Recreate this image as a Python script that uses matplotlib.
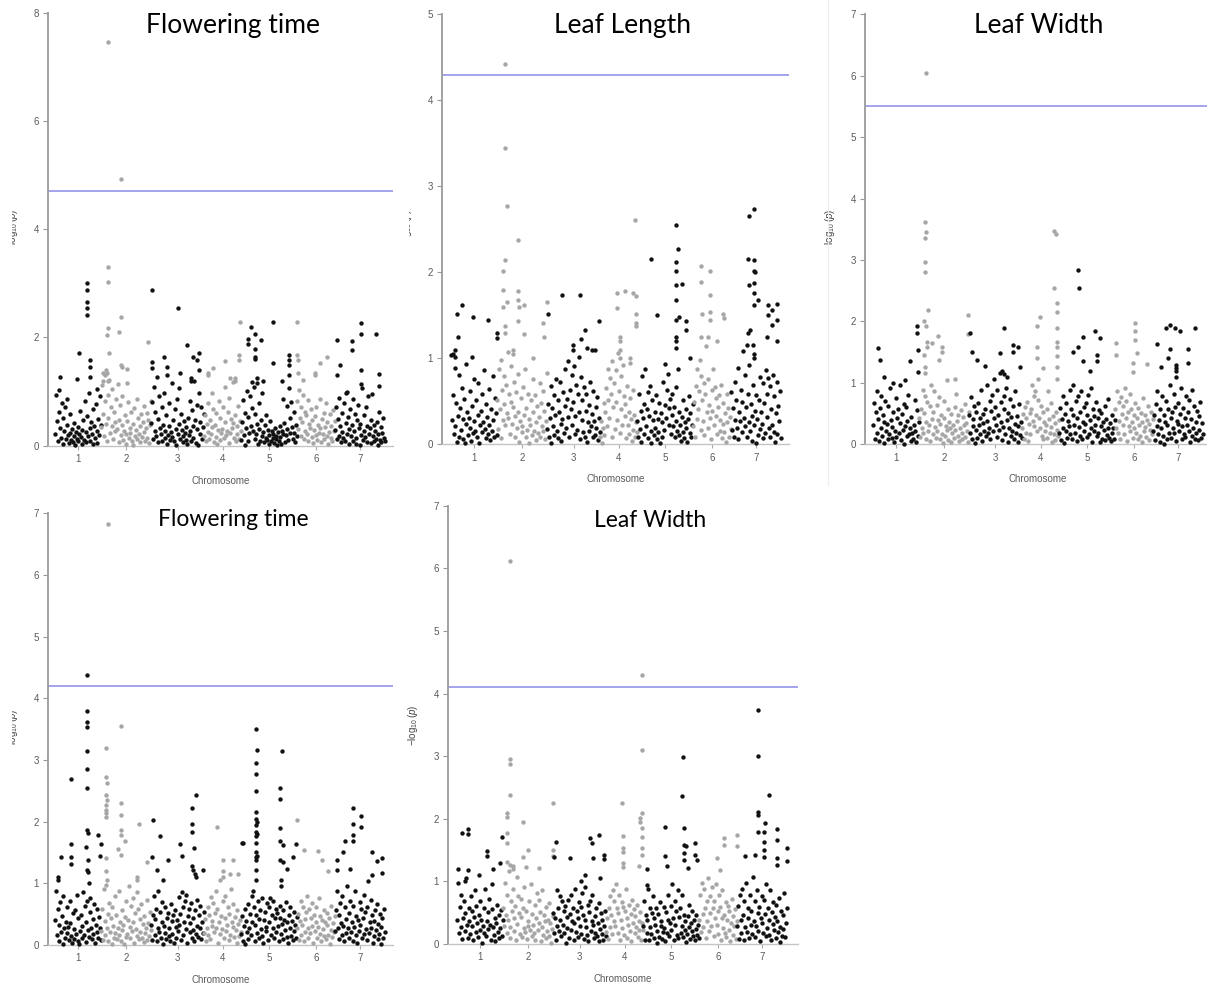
import numpy as np
import matplotlib
matplotlib.use("Agg")
import matplotlib.pyplot as plt
from matplotlib.transforms import Bbox, TransformedBbox

plt.rcParams["font.family"] = ["Liberation Sans", "DejaVu Sans"]
plt.rcParams["mathtext.fontset"] = "custom"
plt.rcParams["mathtext.rm"] = "Liberation Sans"
plt.rcParams["mathtext.it"] = "Liberation Sans:italic"

W, H = 1207, 989

# --- data ---
chrom_names = ["1", "2", "3", "4", "5", "6", "7"]
chrom_len = [46, 50, 53, 37, 56, 38, 50]

titles = ["Flowering time", "Leaf Length", "Leaf Width", "Flowering time", "Leaf Width"]
thresholds = [4.7, 4.3, 5.5, 4.2, 4.1]
y_max = [8, 5, 7, 7, 7]
y_step = [2, 1, 1, 1, 1]

# background SNP cloud, in order along each chromosome
ft1_bg = [
    [0.21, 0.93, 0.45, 0.08, 0.62, 1.02, 0.33, 0.15, 0.78, 0.04, 0.52, 0.27, 0.71, 0.12, 0.38, 0.86, 0.19, 0.05,
     0.58, 0.24, 0.11, 0.31, 0.07, 0.18, 0.42, 0.02, 0.26, 0.13, 0.35, 0.09, 0.22, 0.64, 0.16, 0.03, 0.29, 0.47,
     0.11, 0.83, 0.06, 0.25, 0.54, 0.17, 0.97, 0.32, 0.08, 0.44, 0.21, 0.68, 0.03, 0.36, 0.14, 0.77, 0.28, 0.05,
     0.49, 0.19, 0.91, 0.38],
    [0.34, 1.12, 0.58, 0.17, 0.82, 1.31, 0.41, 0.09, 0.94, 0.52, 1.21, 0.23, 0.71, 0.36, 1.04, 0.13, 0.63, 0.44,
     0.27, 0.87, 0.31, 1.14, 0.48, 0.06, 0.75, 0.19, 0.39, 0.92, 0.11, 0.28, 0.57, 0.21, 0.04, 0.46, 0.81, 0.14,
     0.33, 0.24, 0.62, 0.08, 0.41, 0.02, 0.69, 0.18, 0.29, 0.86, 0.12, 0.51, 0.22, 0.37, 0.07, 0.58, 0.16, 0.43,
     0.26, 0.74, 0.09, 0.32, 0.61, 0.15, 0.47, 0.05, 0.38, 0.83],
    [0.42, 0.81, 0.12, 1.08, 0.28, 0.63, 0.17, 1.27, 0.49, 0.06, 0.91, 0.33, 0.21, 0.72, 0.09, 0.38, 0.98, 0.14,
     0.27, 0.56, 0.04, 0.19, 0.78, 0.36, 0.11, 0.25, 1.16, 0.16, 0.47, 0.08, 0.68, 0.31, 0.02, 0.87, 0.22, 0.41,
     1.06, 0.13, 0.59, 0.29, 0.18, 0.07, 0.45, 0.24, 0.11, 0.34, 0.03, 0.52, 0.19, 0.82, 0.27, 0.09, 0.66, 0.37,
     0.15, 1.19, 0.48, 0.05, 0.76, 0.31, 0.02, 0.97, 0.43, 0.21, 0.71, 0.12, 0.35, 0.58],
    [0.18, 0.57, 0.09, 0.41, 0.79, 0.26, 0.12, 0.48, 0.21, 0.97, 0.34, 0.68, 0.07, 0.39, 0.16, 0.61, 0.03, 0.29,
     0.82, 0.11, 0.52, 0.23, 0.31, 0.72, 0.14, 0.44, 1.08, 0.19, 0.27, 0.63, 0.05, 0.88, 0.24, 0.49, 0.33, 1.17,
     0.42, 0.15, 0.56, 0.08, 0.36, 0.21, 0.74, 0.12, 0.46, 0.28],
    [0.11, 0.43, 0.84, 0.19, 0.02, 0.61, 0.32, 1.01, 0.08, 0.53, 0.24, 0.92, 0.37, 1.18, 0.69, 0.28, 1.09, 0.13,
     0.58, 0.21, 0.41, 0.04, 0.79, 0.31, 0.09, 0.47, 0.17, 0.97, 0.26, 0.06, 0.38, 0.15, 0.57, 0.11, 0.29, 0.19,
     0.03, 0.46, 0.08, 0.27, 0.14, 0.22, 0.05, 0.33, 0.12, 0.18, 0.02, 0.25, 0.09, 0.36, 0.16, 0.04, 0.28, 0.86,
     0.21, 0.42, 0.07, 0.19, 0.73, 0.31, 0.11, 1.07, 0.23, 0.51, 0.81, 0.34, 0.13, 0.62, 0.24, 0.06, 0.39, 0.17],
    [0.82, 0.31, 1.03, 0.52, 0.18, 0.71, 0.44, 0.93, 0.12, 0.63, 0.27, 0.56, 0.21, 0.84, 0.08, 0.41, 0.33, 0.67,
     0.16, 0.48, 0.05, 0.29, 0.54, 0.19, 0.72, 0.11, 0.38, 0.24, 0.87, 0.32, 0.07, 0.49, 0.22, 0.61, 0.13, 0.34,
     0.79, 0.17, 0.43, 0.03, 0.26, 0.58, 0.14, 0.37, 0.09, 0.66, 0.28, 0.46],
    [0.29, 0.71, 0.12, 0.49, 0.18, 0.88, 0.37, 0.06, 0.61, 0.26, 0.15, 0.79, 0.09, 0.42, 0.97, 0.21, 0.53, 0.31,
     0.04, 0.68, 0.17, 0.39, 0.08, 0.86, 0.27, 0.58, 0.14, 0.03, 0.47, 0.76, 0.32, 0.01, 0.41, 0.19, 1.06, 0.11,
     0.57, 0.28, 0.16, 0.72, 0.07, 0.36, 0.91, 0.22, 0.33, 0.05, 0.48, 0.96, 0.18, 0.38, 0.09, 0.27, 0.13, 0.44,
     0.02, 0.21, 0.63, 0.11, 0.34, 0.07, 0.24, 0.52, 0.15, 0.08],
]
# stronger hits: (position within chromosome, -log10 p)
ft1_hits = [
    [(31.7, 3.01), (31.7, 2.88), (31.5, 2.66), (32, 2.54), (31.5, 2.41), (24, 1.72), (35, 1.58), (35.3, 1.46),
     (34.8, 1.27), (5, 1.27), (22, 1.24), (41.7, 1.05)],
    [(7.3, 7.46), (6.8, 3.31), (6.8, 3.03), (6.5, 2.17), (6.3, 2.04), (7.6, 1.72), (5, 1.4), (6, 1.35), (7, 1.2),
     (20, 4.93), (20, 2.38), (18, 2.1), (19.5, 1.5), (20.5, 1.45), (46.7, 1.92), (2, 1.35), (2.3, 1.2), (25.7, 1.42),
     (25.5, 1.15)],
    [(1, 2.88), (1.2, 1.55), (1, 1.44), (13.3, 1.64), (15.7, 1.45), (15.5, 1.3), (27.3, 2.54), (29, 1.35),
     (36.3, 1.86), (41.7, 1.63), (45.7, 1.58), (48.3, 1.72), (48, 1.4), (40, 1.25), (40.3, 1.2)],
    [(35.5, 2.28), (35, 1.67), (35.2, 1.58), (21.3, 1.56), (9.3, 1.43), (4, 1.35), (4.2, 1.3), (26, 1.25), (31, 1.2),
     (31.3, 1.25)],
    [(9.7, 2.2), (7.3, 1.98), (7.3, 1.87), (14, 2.07), (14, 1.79), (14.2, 1.64), (14, 1.6), (20, 1.95), (32.3, 2.29),
     (32.3, 1.53), (47.7, 1.67), (47.7, 1.58), (47.5, 1.49), (47.7, 1.3), (22, 1.2), (15.5, 1.25), (15.5, 1.15),
     (40.5, 1.2)],
    [(0.3, 2.29), (0.3, 1.67), (0.5, 1.58), (0.5, 1.35), (23, 1.52), (30.3, 1.64), (18, 1.35), (18.3, 1.3), (6, 1.22)],
    [(1.7, 1.95), (1.7, 1.3), (5, 1.5), (16.7, 1.94), (16.7, 1.77), (25.7, 2.26), (25.7, 2.07), (25.5, 1.4),
     (25.7, 1.14), (40.7, 2.07), (44, 1.32), (44, 1.1), (12, 1.0)],
]

ll_bg = [
    [1.04, 0.28, 0.57, 0.12, 0.89, 0.21, 0.48, 0.03, 0.33, 0.81, 0.09, 0.42, 0.17, 0.66, 0.06, 0.29, 0.53, 0.02,
     0.24, 0.93, 0.38, 0.11, 0.31, 0.62, 0.19, 0.04, 0.44, 0.13, 0.76, 0.27, 0.16, 0.51, 0.08, 0.71, 0.34, 0.01,
     0.22, 0.39, 0.14, 0.58, 0.26, 0.86, 0.18, 0.47, 0.07, 0.32, 0.12, 0.64, 0.23, 0.05, 0.41, 0.15, 0.79, 0.28,
     0.09, 0.54, 0.36, 0.11],
    [0.52, 0.18, 0.87, 0.41, 0.98, 0.07, 0.63, 0.28, 0.79, 0.47, 0.22, 0.69, 0.36, 1.07, 0.31, 0.58, 0.12, 0.49,
     0.91, 0.24, 0.43, 0.73, 0.33, 0.09, 0.61, 0.19, 0.82, 0.38, 0.03, 0.27, 0.54, 0.14, 0.21, 0.67, 0.34, 0.88,
     0.08, 0.42, 0.17, 0.59, 0.02, 0.29, 0.23, 0.51, 0.11, 0.37, 0.76, 0.16, 0.57, 0.26, 0.05, 0.44, 0.13, 0.32,
     0.71, 0.09, 0.48, 0.21, 0.62, 0.15, 0.39, 0.06, 0.27, 0.83],
    [0.18, 0.47, 0.09, 0.31, 0.68, 0.02, 0.42, 0.21, 0.57, 0.11, 0.34, 0.76, 0.16, 0.51, 0.07, 0.38, 0.72, 0.24,
     0.04, 0.29, 0.61, 0.13, 0.44, 0.87, 0.19, 0.53, 0.97, 0.32, 0.08, 0.63, 0.41, 0.81, 0.23, 0.49, 0.91, 0.12,
     0.33, 0.69, 0.17, 0.58, 1.02, 0.37, 0.06, 0.78, 0.28, 0.52, 0.14, 0.67, 0.09, 0.39, 0.59, 0.03, 0.26, 0.46,
     0.15, 0.73, 0.21, 0.35, 0.08, 0.62, 0.27, 0.11, 0.43, 0.19, 0.55, 0.05, 0.31, 0.14],
    [0.08, 0.27, 0.02, 0.19, 0.48, 0.11, 0.37, 0.66, 0.21, 0.88, 0.52, 0.31, 0.77, 0.58, 0.09, 0.97, 0.43, 0.71,
     0.18, 0.86, 0.49, 0.28, 1.06, 0.62, 0.13, 0.79, 0.41, 0.23, 0.92, 0.56, 0.33, 0.47, 0.07, 0.68, 0.22, 0.38,
     0.12, 0.54, 0.29, 0.04, 0.63, 0.17, 0.34, 0.09, 0.26, 0.14],
    [0.27, 0.09, 0.58, 0.18, 0.39, 0.03, 0.79, 0.31, 0.47, 0.12, 0.87, 0.21, 0.41, 0.61, 0.07, 0.33, 0.68, 0.16,
     0.02, 0.52, 0.28, 0.11, 0.37, 0.19, 0.57, 0.06, 0.29, 0.14, 0.48, 0.01, 0.36, 0.09, 0.26, 0.72, 0.17, 0.46,
     0.93, 0.31, 0.63, 0.82, 0.42, 0.22, 0.53, 0.12, 0.34, 0.59, 0.21, 0.43, 0.08, 0.67, 0.27, 0.16, 0.88, 0.11,
     0.38, 0.23, 0.04, 0.32, 0.14, 0.51, 0.07, 0.26, 0.19, 0.41, 0.03, 0.29, 0.56, 0.13, 0.36, 0.09, 0.22, 0.47],
    [0.21, 0.49, 0.08, 0.68, 0.29, 0.87, 0.41, 0.62, 0.98, 0.17, 0.79, 0.52, 0.27, 0.71, 0.11, 0.58, 1.14, 0.37,
     0.19, 0.76, 0.46, 0.31, 0.06, 0.63, 0.39, 0.88, 0.22, 0.67, 0.33, 0.54, 0.12, 0.43, 0.57, 0.16, 0.28, 0.69,
     0.07, 0.24, 0.48, 0.14, 0.36, 0.03, 0.59, 0.26, 0.42, 0.09, 0.32, 0.18],
    [0.61, 0.17, 0.42, 0.08, 0.73, 0.28, 0.51, 0.19, 0.89, 0.06, 0.38, 0.27, 0.63, 0.14, 0.49, 1.08, 0.31, 0.81,
     0.21, 0.43, 0.09, 0.58, 0.26, 0.92, 0.16, 0.47, 0.04, 0.33, 0.69, 0.22, 0.39, 0.02, 0.57, 0.29, 0.11, 0.52,
     0.18, 0.78, 0.37, 0.24, 0.71, 0.07, 0.48, 0.13, 0.86, 0.59, 0.32, 0.77, 0.19, 0.68, 0.09, 0.41, 0.23, 0.81,
     0.14, 0.56, 0.03, 0.36, 0.72, 0.12, 0.44, 0.27, 0.62, 0.07],
]
ll_hits = [
    [(10.7, 1.62), (6.3, 1.52), (22.3, 1.48), (37.3, 1.44), (7.3, 1.25), (4, 1.1), (4.3, 1.02), (45.7, 1.29),
     (45.5, 1.24), (20.7, 1.02), (2, 1.05)],
    [(8, 4.42), (8, 3.45), (8.2, 2.14), (8, 1.38), (8.3, 1.3), (9.7, 2.77), (9.7, 1.66), (5.7, 2.02), (5.7, 1.79),
     (5.8, 1.6), (21.3, 2.38), (21.3, 1.78), (21.2, 1.68), (21.5, 1.6), (21.3, 1.43), (27, 1.62), (49.7, 1.66),
     (46.3, 1.41), (46.5, 1.25), (16, 1.05), (16.2, 1.1), (36, 1.0), (26.5, 1.28)],
    [(1, 1.52), (15, 1.74), (33.3, 1.74), (33.5, 1.22), (37.7, 1.33), (52, 1.43), (44.7, 1.1), (26, 1.15),
     (26.3, 1.1), (40, 1.12), (48, 1.1)],
    [(16.7, 1.76), (16.7, 1.58), (25.3, 1.78), (33.3, 1.76), (35.7, 1.72), (35.3, 2.61), (35.5, 1.52), (35.8, 1.41),
     (35.5, 1.38), (20, 1.25), (20.2, 1.2), (20, 1.1), (20.3, 1.0), (30, 1.0), (30.2, 0.95)],
    [(14, 2.15), (19.7, 1.5), (39, 2.55), (39, 2.12), (39, 2.02), (39, 1.85), (39.2, 1.68), (38.8, 1.45), (39, 1.25),
     (39.2, 1.2), (39, 1.12), (40.7, 2.27), (44.7, 1.86), (42.3, 1.48), (48.7, 1.43), (48.7, 1.33), (53, 1.0)],
    [(8.3, 2.07), (8.3, 1.89), (8.5, 1.52), (8.3, 1.25), (16.7, 2.02), (16.7, 1.74), (16.5, 1.54), (16.7, 1.45),
     (30, 1.52), (31, 1.47), (15, 1.25), (24, 1.2)],
    [(18.3, 2.65), (18.3, 1.85), (23.3, 2.74), (23.3, 2.14), (23.3, 2.02), (23.5, 2.0), (23.3, 1.87), (23.3, 1.76),
     (23.3, 1.62), (23.2, 1.0), (16.7, 2.16), (16.7, 1.3), (27.3, 1.68), (45.7, 1.63), (45.7, 1.45), (45.7, 1.2),
     (37.3, 1.62), (37.3, 1.5), (41.3, 1.56), (41.3, 1.39), (36.3, 1.25), (19, 1.33), (16, 1.15), (22, 1.15),
     (22.5, 1.05)],
]

lw1_bg = [
    [0.31, 0.68, 0.09, 0.52, 0.18, 0.87, 0.41, 0.06, 0.59, 0.27, 0.79, 0.14, 0.48, 0.02, 0.37, 0.71, 0.21, 0.33,
     0.08, 0.62, 0.17, 0.91, 0.39, 0.11, 0.28, 0.53, 0.03, 0.22, 0.76, 0.12, 0.43, 0.57, 0.19, 0.34, 0.97, 0.07,
     0.49, 0.24, 0.66, 0.01, 0.29, 0.61, 0.13, 0.38, 0.81, 0.16, 0.26, 0.05, 0.44, 0.18, 0.09, 0.32, 0.72, 0.21,
     0.04, 0.56, 0.14, 0.36],
    [0.43, 0.12, 0.58, 0.27, 0.88, 0.19, 0.51, 0.79, 0.08, 0.37, 0.69, 0.22, 0.31, 0.62, 0.06, 0.97, 0.41, 0.16,
     0.53, 0.86, 0.28, 0.11, 0.64, 0.21, 0.39, 0.77, 0.09, 0.33, 0.48, 0.17, 0.02, 0.42, 0.71, 0.13, 0.29, 0.24,
     0.57, 0.07, 0.36, 0.26, 0.03, 0.49, 0.18, 0.32, 0.11, 0.61, 0.23, 0.82, 0.38, 0.14, 0.47, 0.05, 0.27, 0.56,
     0.19, 0.09, 0.44, 0.31, 0.66, 0.12, 0.35, 0.21, 0.04, 0.52],
    [0.48, 0.19, 0.77, 0.08, 0.41, 0.29, 0.63, 0.02, 0.23, 0.52, 0.11, 0.68, 0.31, 0.43, 0.17, 0.88, 0.06, 0.34,
     0.49, 0.21, 0.58, 0.13, 0.97, 0.38, 0.18, 0.27, 0.71, 0.09, 0.54, 0.81, 0.22, 1.07, 0.42, 0.61, 0.32, 0.89,
     0.12, 0.47, 0.24, 1.16, 0.69, 0.37, 0.07, 0.28, 0.79, 0.57, 0.16, 0.92, 0.39, 0.04, 0.51, 0.26, 0.73, 0.14,
     0.44, 0.21, 0.62, 0.09, 0.33, 0.86, 0.19, 0.46, 0.03, 0.29, 0.66, 0.15, 0.36, 0.11],
    [0.27, 0.49, 0.08, 0.61, 0.19, 0.42, 0.69, 0.06, 0.33, 0.51, 0.17, 0.58, 0.96, 0.38, 0.79, 0.29, 0.87, 0.47,
     0.21, 0.72, 1.06, 0.43, 0.26, 0.63, 0.14, 0.53, 0.09, 0.37, 0.22, 0.31, 0.57, 0.11, 0.86, 0.41, 0.18, 0.68,
     0.28, 0.04, 0.46, 0.16, 0.34, 0.07, 0.52, 0.24, 0.13, 0.39],
    [0.18, 0.59, 0.07, 0.41, 0.78, 0.27, 0.02, 0.49, 0.21, 0.68, 0.11, 0.38, 0.29, 0.88, 0.16, 0.57, 0.09, 0.47,
     0.96, 0.31, 0.19, 0.71, 0.42, 0.06, 0.79, 0.28, 0.52, 0.14, 0.87, 0.08, 0.37, 0.61, 0.22, 0.33, 0.67, 0.12,
     0.48, 0.81, 0.17, 0.39, 0.91, 0.26, 0.04, 0.58, 0.21, 0.46, 0.32, 0.69, 0.13, 0.43, 0.18, 0.56, 0.03, 0.29,
     0.51, 0.09, 0.36, 0.24, 0.62, 0.07, 0.41, 0.15, 0.27, 0.73, 0.11, 0.34, 0.05, 0.48, 0.19, 0.26, 0.08, 0.39],
    [0.58, 0.27, 0.86, 0.19, 0.69, 0.38, 0.08, 0.77, 0.49, 0.31, 0.62, 0.16, 0.91, 0.42, 0.71, 0.06, 0.53, 0.29,
     0.82, 0.21, 0.57, 0.37, 0.11, 0.48, 0.26, 0.67, 0.18, 0.43, 0.09, 0.59, 0.32, 0.14, 0.51, 0.04, 0.36, 0.76,
     0.22, 0.28, 0.47, 0.12, 0.39, 0.63, 0.07, 0.33, 0.24, 0.52, 0.17, 0.41],
    [0.21, 0.48, 0.07, 0.66, 0.29, 0.87, 0.16, 0.39, 0.04, 0.58, 0.26, 0.79, 0.13, 0.47, 0.01, 0.36, 0.71, 0.09,
     0.31, 0.57, 0.18, 0.96, 0.42, 0.11, 0.52, 0.27, 0.82, 0.19, 0.61, 0.06, 0.38, 0.33, 0.68, 0.22, 0.49, 0.91,
     0.08, 0.29, 0.59, 0.17, 0.43, 0.12, 0.78, 0.32, 0.53, 0.21, 0.72, 0.03, 0.41, 0.88, 0.14, 0.26, 0.63, 0.09,
     0.37, 0.19, 0.54, 0.07, 0.46, 0.24, 0.69, 0.11, 0.34, 0.16],
]
lw1_hits = [
    [(5.3, 1.56), (7, 1.37), (37, 1.36), (11.3, 1.1), (20.3, 0.99), (32, 1.04), (43.7, 1.92), (43.7, 1.81),
     (45.3, 1.54), (45.3, 1.18)],
    [(6.7, 6.05), (6.5, 3.62), (6.7, 3.46), (6.3, 3.36), (6.2, 2.96), (6.5, 2.81), (8.7, 2.18), (5, 2.01), (6.7, 1.92),
     (7.7, 1.67), (7.7, 1.59), (5, 1.45), (5.8, 1.26), (5.8, 1.16), (12.7, 1.65), (19.3, 1.76), (22.7, 1.59),
     (22.7, 1.51), (20.3, 1.37), (36, 1.06), (27.7, 1.05), (49.3, 2.1), (49.5, 1.8)],
    [(1, 1.81), (2.7, 1.51), (7.7, 1.37), (16, 1.28), (31, 1.48), (35.3, 1.89), (44.3, 1.62), (44.3, 1.51),
     (49.3, 1.59), (51, 1.26), (33, 1.2), (35, 1.15), (38, 1.1)],
    [(15.3, 1.93), (15.3, 1.59), (15.3, 1.4), (18, 2.08), (21.3, 1.24), (32.3, 3.47), (32.3, 2.54), (33.7, 3.43),
     (34.7, 2.3), (34.7, 2.16), (34.7, 1.89), (34.7, 1.67), (34.7, 1.59), (34.7, 1.43), (34.7, 1.26), (34.5, 1.07)],
    [(18.7, 2.84), (18.7, 1.58), (20.3, 2.55), (13.7, 1.5), (24.3, 1.75), (24.3, 1.35), (36, 1.84), (41, 1.73),
     (37.7, 1.45), (37.7, 1.35), (31, 1.2)],
    [(0.5, 1.65), (0.5, 1.46), (20, 1.98), (20, 1.84), (20, 1.7), (21.7, 1.48), (18.3, 1.32), (18.3, 1.18),
     (31.7, 1.3)],
    [(4.3, 1.64), (12.7, 1.89), (17, 1.94), (17, 1.55), (22, 1.9), (27, 1.84), (42, 1.9), (35.3, 1.55), (35.3, 1.32),
     (15.3, 1.4), (22.7, 1.29), (22.7, 1.25), (22.7, 1.2), (22.7, 1.1), (7.7, 1.26)],
]

ft2_bg = [
    [0.41, 0.88, 0.17, 0.58, 0.06, 0.32, 0.69, 0.21, 0.47, 0.02, 0.79, 0.27, 0.11, 0.38, 0.61, 0.19, 0.29, 0.08,
     0.72, 0.36, 0.14, 0.03, 0.52, 0.09, 0.26, 0.57, 0.18, 0.81, 0.07, 0.43, 0.01, 0.22, 0.49, 0.12, 0.31, 0.86,
     0.16, 0.63, 0.05, 0.37, 0.71, 0.24, 0.13, 0.54, 0.77, 0.28, 0.09, 0.42, 0.18, 0.66, 0.04, 0.33, 0.21, 0.59,
     0.11, 0.46, 0.27, 0.08],
    [0.23, 0.59, 0.08, 0.91, 0.39, 0.17, 0.98, 0.28, 0.51, 0.06, 0.68, 0.21, 0.43, 0.02, 0.62, 0.31, 0.12, 0.79,
     0.19, 0.48, 0.09, 0.27, 0.16, 0.87, 0.37, 0.07, 0.57, 0.24, 0.33, 0.01, 0.46, 0.13, 0.71, 0.18, 0.41, 0.96,
     0.11, 0.29, 0.63, 0.22, 0.77, 0.38, 0.04, 0.52, 0.26, 0.86, 0.14, 0.58, 0.09, 0.42, 0.21, 0.67, 0.12, 0.34,
     0.05, 0.47, 0.19, 0.28, 0.73, 0.08, 0.36, 0.15, 0.54, 0.25],
    [0.32, 0.08, 0.49, 0.79, 0.17, 0.42, 0.58, 0.06, 0.28, 0.87, 0.21, 0.53, 0.11, 0.38, 0.69, 0.02, 0.31, 0.19,
     0.61, 0.09, 0.44, 0.52, 0.14, 0.27, 0.07, 0.66, 0.39, 0.18, 0.48, 0.03, 0.57, 0.29, 0.12, 0.41, 0.22, 0.78,
     0.33, 0.51, 0.08, 0.86, 0.62, 0.16, 0.37, 0.71, 0.26, 0.81, 0.04, 0.47, 0.59, 0.21, 0.36, 0.68, 0.11, 0.24,
     0.43, 0.06, 0.57, 0.18, 0.31, 0.73, 0.13, 0.49, 0.27, 0.64, 0.09, 0.38, 0.19, 0.54],
    [0.19, 0.42, 0.07, 0.28, 0.61, 0.16, 0.49, 0.09, 0.78, 0.31, 0.39, 0.68, 0.21, 0.52, 0.87, 0.27, 0.58, 0.04,
     0.37, 1.06, 0.18, 0.47, 0.26, 0.71, 0.12, 0.43, 0.79, 0.22, 0.33, 0.62, 0.08, 0.51, 0.17, 0.91, 0.38, 0.29,
     0.67, 0.13, 0.46, 0.24, 0.56, 0.03, 0.34, 0.14, 0.41, 0.21],
    [0.18, 0.47, 0.06, 0.31, 0.58, 0.02, 0.39, 0.21, 0.67, 0.09, 0.28, 0.51, 0.16, 0.79, 0.37, 0.88, 0.61, 0.07,
     0.33, 0.48, 0.19, 0.71, 0.42, 0.11, 0.57, 0.26, 0.14, 0.76, 0.04, 0.41, 0.53, 0.22, 0.29, 0.68, 0.08, 0.62,
     0.38, 0.77, 0.17, 0.49, 0.27, 0.72, 0.12, 0.43, 0.59, 0.21, 0.52, 0.31, 0.06, 0.44, 0.63, 0.18, 0.34, 0.56,
     0.09, 0.41, 0.24, 0.69, 0.13, 0.37, 0.03, 0.48, 0.27, 0.61, 0.15, 0.39, 0.08, 0.54, 0.22, 0.32, 0.11, 0.46],
    [0.28, 0.51, 0.08, 0.39, 0.71, 0.17, 0.33, 0.62, 0.06, 0.42, 0.21, 0.53, 0.79, 0.27, 0.11, 0.58, 0.19, 0.43,
     0.68, 0.31, 0.04, 0.49, 0.23, 0.37, 0.61, 0.12, 0.29, 0.76, 0.18, 0.47, 0.07, 0.41, 0.26, 0.57, 0.14, 0.38,
     0.09, 0.32, 0.52, 0.16, 0.44, 0.02, 0.24, 0.63, 0.13, 0.36, 0.21, 0.47],
    [0.22, 0.57, 0.88, 0.27, 0.49, 0.09, 0.68, 0.36, 0.17, 0.79, 0.31, 0.06, 0.61, 0.19, 0.42, 0.96, 0.28, 0.52,
     0.11, 0.72, 0.21, 0.38, 0.63, 0.07, 0.29, 0.87, 0.16, 0.47, 0.03, 0.41, 0.23, 0.69, 0.33, 0.58, 0.12, 0.44,
     0.18, 0.81, 0.53, 0.26, 0.08, 0.62, 1.04, 0.19, 0.37, 0.73, 0.27, 0.48, 0.04, 0.39, 0.14, 0.56, 0.24, 0.67,
     0.09, 0.34, 0.18, 0.51, 0.02, 0.29, 0.43, 0.12, 0.58, 0.21],
]
ft2_hits = [
    [(32.3, 4.37), (31.7, 3.79), (31.7, 3.61), (32.3, 3.54), (31.7, 3.15), (31.7, 2.86), (31.7, 2.54), (32, 1.86),
     (32.7, 1.81), (31, 1.59), (33, 1.38), (32, 1.22), (33, 1.19), (33.5, 1.0), (16, 2.69), (16.3, 1.64),
     (16.3, 1.43), (16, 1.32), (5.7, 1.43), (3.3, 1.11), (3.3, 1.05), (43.3, 1.78), (45.5, 1.64), (45.3, 1.44)],
    [(7.3, 6.83), (5, 3.19), (5, 2.73), (5, 2.43), (5, 2.27), (5, 2.19), (5, 2.14), (5, 2.08), (5, 1.41), (5.2, 1.2),
     (5.5, 1.05), (6.3, 2.62), (6.3, 2.35), (20, 3.55), (20, 2.3), (20, 2.11), (20, 1.86), (20, 1.78), (20.2, 1.46),
     (24, 1.69), (17.3, 1.55), (38.3, 1.96), (45.7, 1.35), (35.7, 1.1), (35.7, 1.05)],
    [(2.3, 2.03), (0.7, 1.42), (9, 1.76), (5.7, 1.22), (17.3, 1.38), (29, 1.64), (30.7, 1.45), (40.7, 2.22),
     (40.7, 1.97), (40.7, 1.84), (40.7, 1.28), (45, 2.43), (43, 1.57), (42.3, 1.22), (51.7, 1.22), (12, 1.05),
     (44, 1.15), (44.5, 1.1)],
    [(12.7, 1.92), (18.7, 1.38), (18.7, 1.2), (18.5, 1.1), (29.3, 1.38), (26, 1.15), (34, 1.15)],
    [(0.7, 1.66), (1.5, 1.66), (15, 3.51), (15, 2.95), (15, 2.78), (15, 2.49), (15, 2.16), (15, 2.05), (15, 1.95),
     (15, 1.84), (15, 1.76), (15, 1.65), (15, 1.51), (15, 1.43), (15, 1.38), (15, 1.22), (15, 1.05), (16.3, 3.17),
     (16.3, 2.0), (16.3, 1.8), (16.3, 1.45), (40.7, 3.14), (39, 2.55), (39, 2.36), (39, 1.9), (39, 1.68), (39, 1.38),
     (41.7, 1.62), (41.7, 1.35), (46.3, 1.24), (52.3, 1.43), (55, 1.63), (39.5, 1.05), (40, 0.95)],
    [(0.3, 2.02), (7, 1.54), (21.3, 1.52), (24.7, 1.38), (31, 1.2)],
    [(1.7, 1.38), (1.7, 1.22), (10, 1.69), (8.3, 1.51), (17.7, 2.22), (17.7, 1.78), (17.7, 1.68), (18.3, 1.97),
     (25.7, 2.09), (25.7, 1.91), (15, 1.23), (37.3, 1.51), (41.7, 1.36), (47.3, 1.41), (47.3, 1.16), (36.7, 1.14)],
]

lw2_bg = [
    [0.38, 0.97, 0.18, 0.59, 0.27, 0.79, 0.08, 0.41, 0.68, 0.21, 0.49, 1.06, 0.31, 0.09, 0.57, 0.36, 0.16, 0.77,
     0.28, 0.52, 0.06, 0.43, 0.87, 0.19, 0.61, 0.33, 0.11, 0.47, 0.22, 0.69, 0.39, 0.02, 0.29, 0.58, 0.17, 0.88,
     0.12, 0.37, 0.51, 0.24, 0.72, 0.31, 0.07, 0.56, 0.96, 0.27, 0.14, 0.42, 0.04, 0.34, 0.63, 0.19, 0.46, 0.09,
     0.26, 0.54, 0.13, 0.38],
    [0.58, 0.29, 0.97, 0.47, 0.18, 0.79, 0.38, 1.16, 0.27, 0.09, 0.68, 0.52, 0.88, 0.21, 0.41, 0.61, 0.07, 1.07,
     0.32, 0.77, 0.49, 0.16, 0.43, 0.72, 0.11, 0.57, 0.26, 0.91, 0.19, 0.53, 0.08, 0.37, 0.28, 0.69, 0.22, 0.96,
     0.13, 0.48, 0.31, 0.17, 0.62, 0.06, 0.42, 0.81, 0.23, 0.34, 0.71, 0.51, 0.04, 0.87, 0.27, 0.14, 0.46, 0.36,
     0.09, 0.59, 0.21, 0.39, 0.12, 0.66, 0.33, 0.02, 0.24, 0.44],
    [0.49, 0.18, 0.41, 0.07, 0.87, 0.29, 0.58, 0.21, 0.77, 0.38, 0.12, 0.68, 0.31, 0.52, 0.17, 0.61, 0.02, 0.43,
     0.26, 0.71, 0.09, 0.48, 0.22, 0.79, 0.37, 0.57, 0.06, 0.33, 0.88, 0.19, 0.53, 0.42, 0.11, 0.67, 0.28, 0.59,
     0.16, 0.81, 0.47, 0.08, 0.39, 0.91, 0.27, 0.14, 0.62, 0.04, 0.51, 0.69, 0.21, 0.36, 0.78, 0.31, 0.09, 0.44,
     0.18, 0.57, 0.13, 0.34, 0.66, 0.05, 0.24, 0.49, 0.16, 0.38, 0.07, 0.28, 0.53, 0.12],
    [0.19, 0.41, 0.08, 0.58, 0.27, 0.77, 0.47, 0.16, 0.87, 0.36, 0.68, 0.29, 0.96, 0.57, 0.18, 0.49, 0.79, 0.06,
     0.38, 0.67, 0.26, 0.59, 0.14, 0.52, 0.88, 0.09, 0.42, 0.31, 0.62, 0.21, 0.48, 0.04, 0.71, 0.33, 0.56, 0.17,
     0.44, 0.27, 0.63, 0.11, 0.37, 0.23, 0.51, 0.07, 0.34, 0.22],
    [0.28, 0.69, 0.07, 0.47, 0.18, 0.39, 0.88, 0.06, 0.58, 0.27, 0.16, 0.49, 0.77, 0.09, 0.41, 0.31, 0.57, 0.02,
     0.21, 0.48, 0.11, 0.67, 0.29, 0.37, 0.08, 0.19, 0.59, 0.26, 0.04, 0.51, 0.17, 0.38, 0.79, 0.12, 0.33, 0.61,
     0.22, 0.96, 0.42, 0.07, 0.68, 0.31, 0.52, 0.14, 0.87, 0.09, 0.43, 0.57, 0.18, 0.29, 0.78, 0.11, 0.47, 0.23,
     0.36, 0.03, 0.16, 0.44, 0.27, 0.62, 0.08, 0.34, 0.21, 0.53, 0.12, 0.39, 0.06, 0.24, 0.46, 0.14, 0.31, 0.09],
    [0.38, 0.79, 0.19, 0.97, 0.48, 0.27, 0.88, 0.58, 0.09, 0.69, 0.37, 1.06, 0.21, 0.77, 0.49, 0.28, 0.91, 0.57,
     0.12, 0.68, 0.41, 0.96, 0.31, 0.52, 0.16, 0.79, 0.59, 0.07, 0.42, 0.86, 0.26, 0.47, 0.18, 0.67, 0.11, 0.39,
     0.61, 0.22, 0.53, 0.04, 0.33, 0.72, 0.14, 0.44, 0.29, 0.56, 0.08, 0.36],
    [0.29, 0.61, 0.08, 0.79, 0.38, 0.17, 0.88, 0.47, 0.06, 0.69, 0.27, 0.97, 0.19, 0.57, 0.41, 0.09, 0.78, 0.31,
     0.52, 0.16, 1.07, 0.37, 0.11, 0.68, 0.28, 0.87, 0.21, 0.49, 0.59, 0.04, 0.42, 0.77, 0.33, 0.18, 0.71, 0.48,
     0.12, 0.96, 0.26, 0.58, 0.14, 0.39, 0.86, 0.07, 0.51, 0.32, 0.67, 0.22, 0.43, 0.62, 0.09, 0.36, 0.19, 0.74,
     0.03, 0.27, 0.53, 0.13, 0.46, 0.24, 0.81, 0.11, 0.34, 0.57],
]
lw2_hits = [
    [(5.3, 1.78), (11.3, 1.83), (11.3, 1.76), (11.3, 1.18), (1.3, 1.19), (30.3, 1.49), (30.3, 1.4), (35.7, 1.19),
     (44.7, 1.71), (43, 1.3), (8, 1.0), (22, 1.1)],
    [(7, 6.12), (7, 2.96), (7, 2.88), (7, 2.38), (7, 1.26), (4.3, 2.09), (4.3, 2.03), (4.3, 1.78), (4.3, 1.61),
     (4.3, 1.31), (20.3, 1.95), (20.3, 1.39), (25.3, 1.5), (23, 1.23), (36.3, 1.21), (10, 1.2), (10.2, 1.25),
     (49.8, 2.25), (49.8, 1.5), (49.6, 1.4)],
    [(3, 1.63), (1, 1.39), (17, 1.37), (37, 1.69), (39.3, 1.62), (46.3, 1.74), (39.7, 1.37), (51, 1.42), (51, 1.35),
     (32, 1.1), (47, 1.05), (28, 1.0)],
    [(15.7, 2.25), (16.7, 1.73), (16.7, 1.53), (16.7, 1.47), (16.7, 1.29), (16.7, 1.23), (36.3, 4.29), (36.3, 3.1),
     (36.3, 2.09), (36.3, 1.85), (36.3, 1.71), (36.3, 1.53), (36.3, 1.42), (34, 2.01), (34, 1.95), (33.3, 1.25)],
    [(3.5, 1.2), (3.5, 0.95), (22, 1.87), (22, 1.41), (23.7, 1.25), (40.3, 2.99), (39.3, 2.36), (41, 1.85),
     (41, 1.58), (41, 1.45), (41, 1.34), (43, 1.56), (45.3, 1.21), (52, 1.61), (52, 1.42), (54.3, 1.34)],
    [(17.7, 1.37), (25, 1.69), (25, 1.58), (37.7, 1.56), (37.9, 1.74), (21, 1.18)],
    [(21.3, 3.73), (21.3, 3.01), (21.3, 2.11), (21.3, 2.06), (21.3, 1.79), (32, 2.38), (28, 1.93), (27.3, 1.79),
     (27.3, 1.63), (27.3, 1.5), (27.3, 1.39), (18, 1.42), (39.7, 1.84), (39.7, 1.66), (39.7, 1.37), (39.7, 1.26),
     (49.7, 1.53), (49.7, 1.33), (8, 1.41)],
]

BLACK = "#111111"
GREY = "#a6a6a6"
BLUE = "#8a8ae8"
TXT = "#5a5a5a"

fig = plt.figure(figsize=(W / 100, H / 100), dpi=100)


def px_rect(left, top, right, bottom):
    return [left / W, 1 - bottom / H, (right - left) / W, (bottom - top) / H]


def draw_panel(k, bg, hits, rect_px, xlim, title_xy, title_size, clip_x):
    left, top, right, bottom = rect_px
    ax = fig.add_axes(px_rect(*rect_px))
    offs = np.concatenate([[0], np.cumsum(chrom_len)[:-1]])
    for i in range(len(chrom_len)):
        col = BLACK if i % 2 == 0 else GREY
        vals = np.array(bg[i])
        n = len(vals)
        xs = offs[i] + (np.arange(n) + 0.5) * chrom_len[i] / n
        hx = np.array([offs[i] + p for p, v in hits[i]])
        hy = np.array([v for p, v in hits[i]])
        ax.scatter(np.concatenate([xs, hx]), np.concatenate([vals, hy]), s=10,
                   c=col, linewidths=0, clip_on=False, zorder=3)
    ax.axhline(thresholds[k], color=BLUE, lw=1.1, zorder=2)

    ax.set_xlim(*xlim)
    ax.set_ylim(0, y_max[k])
    ax.set_yticks(np.arange(0, y_max[k] + 0.01, y_step[k]))
    ax.set_xticks(offs + np.array(chrom_len) / 2)
    ax.set_xticklabels(chrom_names)
    ax.tick_params(axis="y", length=3.5, width=0.8, color="#999999", labelsize=7, labelcolor=TXT, pad=3)
    ax.tick_params(axis="x", length=3, width=0.8, color="#aaaaaa", labelsize=7, labelcolor=TXT, pad=3)
    for s in ["top", "right"]:
        ax.spines[s].set_visible(False)
    ax.spines["left"].set_color("#9a9a9a")
    ax.spines["left"].set_linewidth(1.3)
    ax.spines["bottom"].set_color("#c4c4c4")
    ax.spines["bottom"].set_linewidth(1.0)

    ax.set_xlabel("Chromosome", fontsize=7, color=TXT)
    ax.xaxis.set_label_coords(0.5, -30 / (bottom - top))
    ax.set_ylabel(r"$-\log_{10}(p)$", fontsize=7, color="#444444")
    ax.yaxis.set_label_coords(-35 / (right - left), 0.5)
    ax.yaxis.label.set_va("center")
    if clip_x is not None:
        # the label is cut off in the original screenshot
        lab = ax.yaxis.label
        lab.set_clip_on(True)
        lab.set_clip_box(TransformedBbox(Bbox([[clip_x / W, 0], [1, 1]]), fig.transFigure))

    tx, ty = title_xy
    fig.text(tx / W, 1 - ty / H, titles[k], ha="center", va="baseline", fontsize=title_size,
             family=["Lato", "DejaVu Sans"], color="black")
    return ax


draw_panel(0, ft1_bg, ft1_hits, (48, 12.7, 393, 445.7), (-7, 338), (233, 33), 19, 12)
draw_panel(1, ll_bg, ll_hits, (442, 14.3, 789, 444.3), (-9, 338), (622, 33), 19, 409)
draw_panel(2, lw1_bg, lw1_hits, (865, 14.3, 1211, 444.3), (-8, 338), (1039, 33), 19, None)
draw_panel(3, ft2_bg, ft2_hits, (48, 513.3, 393, 945), (-7, 338), (233, 526), 16.5, 12)
draw_panel(4, lw2_bg, lw2_hits, (448, 505.7, 798, 944), (-9, 341), (650, 527), 16.5, None)

# faint edge of the third screenshot
fig.add_artist(plt.Line2D([828 / W, 828 / W], [1 - 485 / H, 1], transform=fig.transFigure,
                          color="#eeeeee", lw=0.8))

fig.savefig("out.png", dpi=100)
